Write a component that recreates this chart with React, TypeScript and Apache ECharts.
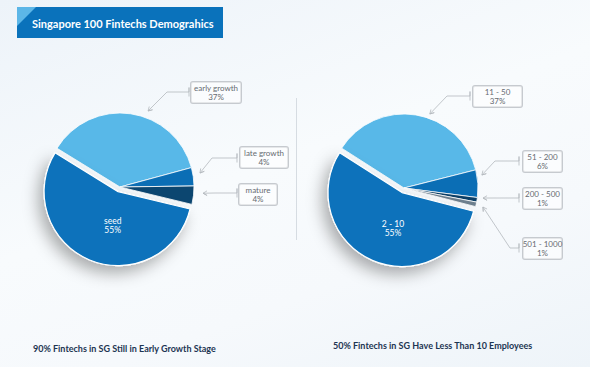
import React, { useEffect, useRef } from 'react';
import * as echarts from 'echarts';

const TITLE = 'Singapore 100 Fintechs Demograhics';
const CAPTION_LEFT = '90% Fintechs in SG Still in Early Growth Stage';
const CAPTION_RIGHT = '50% Fintechs in SG Have Less Than 10 Employees';

const STAGE_NAMES = ['early growth', 'late growth', 'mature', 'seed'];
const STAGE_VALUES = [37, 4, 4, 55];
const SIZE_NAMES = ['11 - 50', '51 - 200', '200 - 500', '501 - 1000', '2 - 10'];
const SIZE_VALUES = [37, 6, 1, 1, 55];

const STAGE_COLORS = ['#58b8e8', '#0b6eb5', '#0c4670', '#0a72bb'];
const SIZE_COLORS = ['#58b8e8', '#0b6eb5', '#0c3f66', '#6d7f8e', '#0a72bb'];

type Callout = { box: number[]; w: number; tip: number[]; elbow: number[]; end: number[] } | null;

const LEFT_PIE = { center: [120, 187], radius: 74, startAngle: 148.4, inner: [10, -3] };
const RIGHT_PIE = { center: [404, 188], radius: 74, startAngle: 147.4, inner: [7, -1] };

const LEFT_CALLOUTS: Callout[] = [
  { box: [216, 82], w: 46, tip: [17.5, -2.8], elbow: [167, 92], end: [189, 92] },
  { box: [264, 147], w: 44, tip: [6.7, -3.7], elbow: [212, 158], end: [237, 158] },
  { box: [258, 184], w: 34, tip: [9.5, -2], elbow: [215, 193], end: [237, 193] },
  null,
];
const RIGHT_CALLOUTS: Callout[] = [
  { box: [497.5, 86], w: 45, tip: [14, -1], elbow: [447, 96], end: [470, 96] },
  { box: [542.5, 151], w: 35, tip: [4, -8.6], elbow: [495, 161], end: [519, 161] },
  { box: [542.5, 188], w: 35, tip: [6, -1.8], elbow: [500, 198], end: [519, 198] },
  { box: [542.5, 238], w: 35, tip: [6.8, 2.6], elbow: [510, 248], end: [519, 248] },
  null,
];

function makeLayout(cfg: any, values: number[], callouts: Callout[]) {
  const total = values.reduce((a, b) => a + b, 0);
  return (params: any) => {
    const i = params.dataIndex;
    const c = callouts[i];
    if (!c) return { dx: cfg.inner[0], dy: cfg.inner[1] };
    let cum = 0;
    for (let j = 0; j < i; j++) cum += values[j];
    const theta = ((cfg.startAngle - (360 * (cum + values[i] / 2)) / total) * Math.PI) / 180;
    const ax = cfg.center[0] + cfg.radius * Math.cos(theta);
    const ay = cfg.center[1] - cfg.radius * Math.sin(theta);
    const tip = [ax + c.tip[0], ay + c.tip[1]];
    let ux = tip[0] - c.elbow[0];
    let uy = tip[1] - c.elbow[1];
    const len = Math.sqrt(ux * ux + uy * uy) || 1;
    ux /= len;
    uy /= len;
    const px = -uy;
    const py = ux;
    const w1 = [tip[0] - 4 * ux + 2.3 * px, tip[1] - 4 * uy + 2.3 * py];
    const w2 = [tip[0] - 4 * ux - 2.3 * px, tip[1] - 4 * uy - 2.3 * py];
    return {
      x: c.box[0],
      y: c.box[1],
      align: 'center',
      verticalAlign: 'top',
      labelLinePoints: [
        w1, tip, w2, tip, c.elbow, c.end,
        [c.end[0], c.end[1] - 4.5], [c.end[0], c.end[1] + 4.5],
      ],
    };
  };
}

function buildData(names: string[], values: number[], colors: string[], callouts: Callout[]) {
  return names.map((n, i) => {
    const c = callouts[i];
    if (!c) {
      return {
        name: n,
        value: values[i],
        selected: true,
        itemStyle: {
          color: colors[i],
          borderColor: '#ffffff',
          borderWidth: 1.2,
          shadowBlur: 16,
          shadowOffsetX: -5,
          shadowOffsetY: 7,
          shadowColor: 'rgba(0,0,0,0.32)',
        },
        label: {
          position: 'inside',
          color: '#ffffff',
          backgroundColor: 'transparent',
          borderWidth: 0,
          padding: 0,
          fontSize: 8.5,
          lineHeight: 9,
        },
        labelLine: { show: false },
      };
    }
    return {
      name: n,
      value: values[i],
      itemStyle: { color: colors[i] },
      label: { width: c.w, overflow: 'none', color: '#666b71' },
    };
  });
}

function pieSeries(cfg: any, names: string[], values: number[], colors: string[], callouts: Callout[]) {
  return {
    type: 'pie',
    center: cfg.center,
    radius: cfg.radius,
    startAngle: cfg.startAngle,
    clockwise: true,
    avoidLabelOverlap: false,
    selectedMode: 'multiple',
    selectedOffset: 5,
    silent: true,
    itemStyle: { borderColor: '#ffffff', borderWidth: 0.8 },
    label: {
      show: true,
      position: 'outside',
      formatter: '{b}\n{c}%',
      color: '#666b71',
      fontFamily: 'Lato',
      fontSize: 8,
      lineHeight: 9,
      overflow: 'none',
      backgroundColor: 'rgba(255,255,255,0.55)',
      borderColor: '#c6cacf',
      borderWidth: 1,
      borderRadius: 2,
      padding: [1.5, 2],
    },
    labelLine: {
      show: true,
      smooth: false,
      lineStyle: { color: '#b4b9be', width: 0.8 },
    },
    select: {
      itemStyle: { borderColor: '#ffffff' },
    },
    labelLayout: makeLayout(cfg, values, callouts),
    data: buildData(names, values, colors, callouts),
  };
}

export default function App() {
  const ref = useRef<HTMLDivElement>(null);
  useEffect(() => {
    if (!ref.current) return;
    const chart = echarts.init(ref.current, null, { renderer: 'svg' });
    chart.setOption({
      animation: false,
      backgroundColor: 'transparent',
      graphic: [
        { type: 'rect', shape: { x: 17, y: 7, width: 206, height: 31 }, style: { fill: '#0a72bb' } },
        { type: 'polygon', shape: { points: [[17, 7], [36, 7], [17, 26]] }, style: { fill: '#5cb6e7' } },
        {
          type: 'text',
          style: {
            text: TITLE, x: 32, y: 23, fill: '#ffffff',
            fontFamily: 'Lato', fontWeight: 'bold', fontSize: 11, verticalAlign: 'middle',
          },
        },
        { type: 'line', shape: { x1: 296.5, y1: 98, x2: 296.5, y2: 240 }, style: { stroke: '#d6dce2', lineWidth: 1 } },
        {
          type: 'text',
          style: {
            text: CAPTION_LEFT, x: 33, y: 348.5, fill: '#1d3552',
            fontFamily: 'Lato', fontWeight: 'bold', fontSize: 9, verticalAlign: 'middle',
          },
        },
        {
          type: 'text',
          style: {
            text: CAPTION_RIGHT, x: 333, y: 345, fill: '#1d3552',
            fontFamily: 'Lato', fontWeight: 'bold', fontSize: 9, verticalAlign: 'middle',
          },
        },
      ],
      series: [
        pieSeries(LEFT_PIE, STAGE_NAMES, STAGE_VALUES, STAGE_COLORS, LEFT_CALLOUTS),
        pieSeries(RIGHT_PIE, SIZE_NAMES, SIZE_VALUES, SIZE_COLORS, RIGHT_CALLOUTS),
      ],
    });
    return () => chart.dispose();
  }, []);
  return (
    <div
      ref={ref}
      style={{
        position: 'absolute',
        left: 0,
        top: 0,
        width: 590,
        height: 367,
        background: 'linear-gradient(160deg, #edf3f9 0%, #f8fbfd 45%, #f6f9fc 70%, #eef4f9 100%)',
      }}
    />
  );
}
